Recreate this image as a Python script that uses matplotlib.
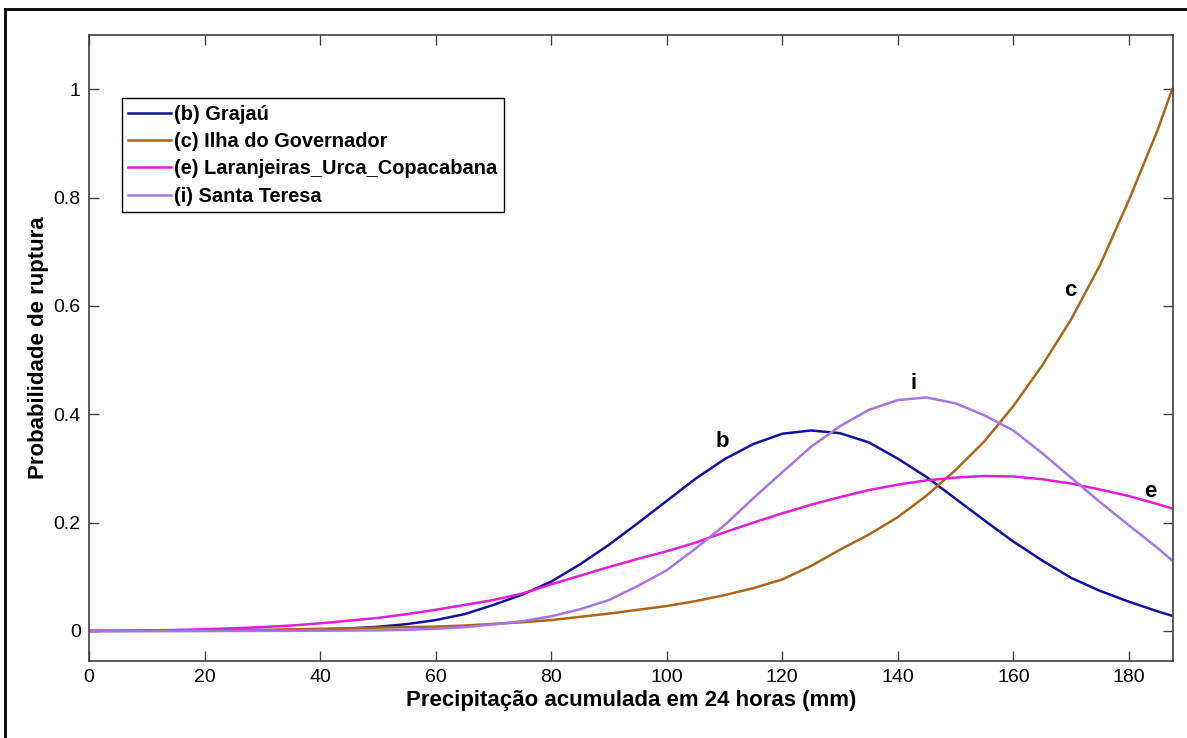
import numpy as np
import matplotlib.pyplot as plt
from matplotlib.lines import Line2D

plt.rcParams['font.family'] = ['Liberation Sans', 'DejaVu Sans']

# precipitação (mm)
x = [0, 5, 10, 15, 20, 25, 30, 35, 40, 45, 50, 55, 60, 65, 70, 75, 80, 85, 90, 95,
     100, 105, 110, 115, 120, 125, 130, 135, 140, 145, 150, 155, 160, 165, 170,
     175, 180, 185, 187.5]

grajau = [0, 0, 0, 0.0001, 0.0002, 0.0004, 0.0007, 0.0014, 0.0025, 0.0045, 0.0077,
          0.0126, 0.020, 0.031, 0.048, 0.067, 0.091, 0.123, 0.159, 0.199,
          0.240, 0.281, 0.317, 0.345, 0.364, 0.370, 0.365, 0.348, 0.318, 0.284,
          0.244, 0.204, 0.165, 0.130, 0.098, 0.074, 0.054, 0.036, 0.028]

ilha = [0, 0, 0.0003, 0.0005, 0.001, 0.0015, 0.002, 0.003, 0.004, 0.005, 0.006,
        0.007, 0.008, 0.010, 0.013, 0.016, 0.020, 0.026, 0.032, 0.039,
        0.046, 0.055, 0.066, 0.079, 0.095, 0.120, 0.150, 0.178, 0.210, 0.250,
        0.297, 0.350, 0.415, 0.490, 0.575, 0.675, 0.795, 0.925, 1.0]

laranjeiras = [0, 0.0003, 0.001, 0.0018, 0.003, 0.005, 0.007, 0.010, 0.014, 0.019,
               0.024, 0.031, 0.039, 0.048, 0.057, 0.069, 0.086, 0.102, 0.118, 0.133,
               0.147, 0.163, 0.182, 0.200, 0.217, 0.233, 0.247, 0.260, 0.270, 0.278,
               0.283, 0.286, 0.285, 0.280, 0.272, 0.261, 0.249, 0.234, 0.226]

santa_teresa = [0, 0, 0, 0, 0, 0, 0.0001, 0.0002, 0.0004, 0.0007, 0.001, 0.002,
                0.004, 0.007, 0.012, 0.018, 0.027, 0.040, 0.057, 0.083,
                0.112, 0.152, 0.195, 0.245, 0.293, 0.340, 0.378, 0.408, 0.426, 0.431,
                0.420, 0.398, 0.370, 0.328, 0.283, 0.238, 0.195, 0.153, 0.130]

series = [
    ('(b) Grajaú', grajau, '#12129e'),
    ('(c) Ilha do Governador', ilha, '#a9661c'),
    ('(e) Laranjeiras_Urca_Copacabana', laranjeiras, '#e01ed8'),
    ('(i) Santa Teresa', santa_teresa, '#a676e0'),
]

labels = [('b', 109.6, 0.35), ('i', 142.7, 0.456), ('c', 169.9, 0.629), ('e', 183.7, 0.258)]

fig = plt.figure(figsize=(11.87, 7.38), dpi=100)
ax = fig.add_axes([0.075, 0.1047, 0.913, 0.8479])

for name, y, cor in series:
    ax.plot(x, y, color=cor, lw=1.8, label=name)

for txt, lx, ly in labels:
    ax.text(lx, ly, txt, fontsize=16, fontweight='bold', ha='center', va='center')

ax.set_xlim(0, 187.6)
ax.set_ylim(-0.055, 1.1)
ax.set_xticks(np.arange(0, 181, 20))
ax.set_yticks([0, 0.2, 0.4, 0.6, 0.8, 1])
ax.set_yticklabels(['0', '0.2', '0.4', '0.6', '0.8', '1'])
ax.tick_params(direction='in', length=7.5, width=1, top=True, right=True,
               labelsize=14, colors='#404040', labelcolor='black', pad=6)
for s in ax.spines.values():
    s.set_color('#404040')
    s.set_linewidth(1.2)

ax.set_xlabel('Precipitação acumulada em 24 horas (mm)', fontsize=16,
              fontweight='bold', labelpad=3)
ax.set_ylabel('Probabilidade de ruptura', fontsize=16, fontweight='bold', labelpad=3)

leg = ax.legend(loc='upper left', bbox_to_anchor=(0.030, 0.899), borderaxespad=0,
                prop={'size': 14.4, 'weight': 'bold'}, handlelength=2.15,
                handletextpad=0.17, labelspacing=0.42, borderpad=0.32,
                fancybox=False, framealpha=1)
leg.get_frame().set_edgecolor('black')
leg.get_frame().set_linewidth(1.0)

# moldura externa (esquerda e topo)
fig.add_artist(Line2D([5 / 1187, 5 / 1187], [0, 1 - 9 / 738], color='black', lw=2,
                      transform=fig.transFigure))
fig.add_artist(Line2D([5 / 1187, 1], [1 - 9 / 738, 1 - 9 / 738], color='black', lw=2,
                      transform=fig.transFigure))

fig.savefig('out.png', dpi=100)
